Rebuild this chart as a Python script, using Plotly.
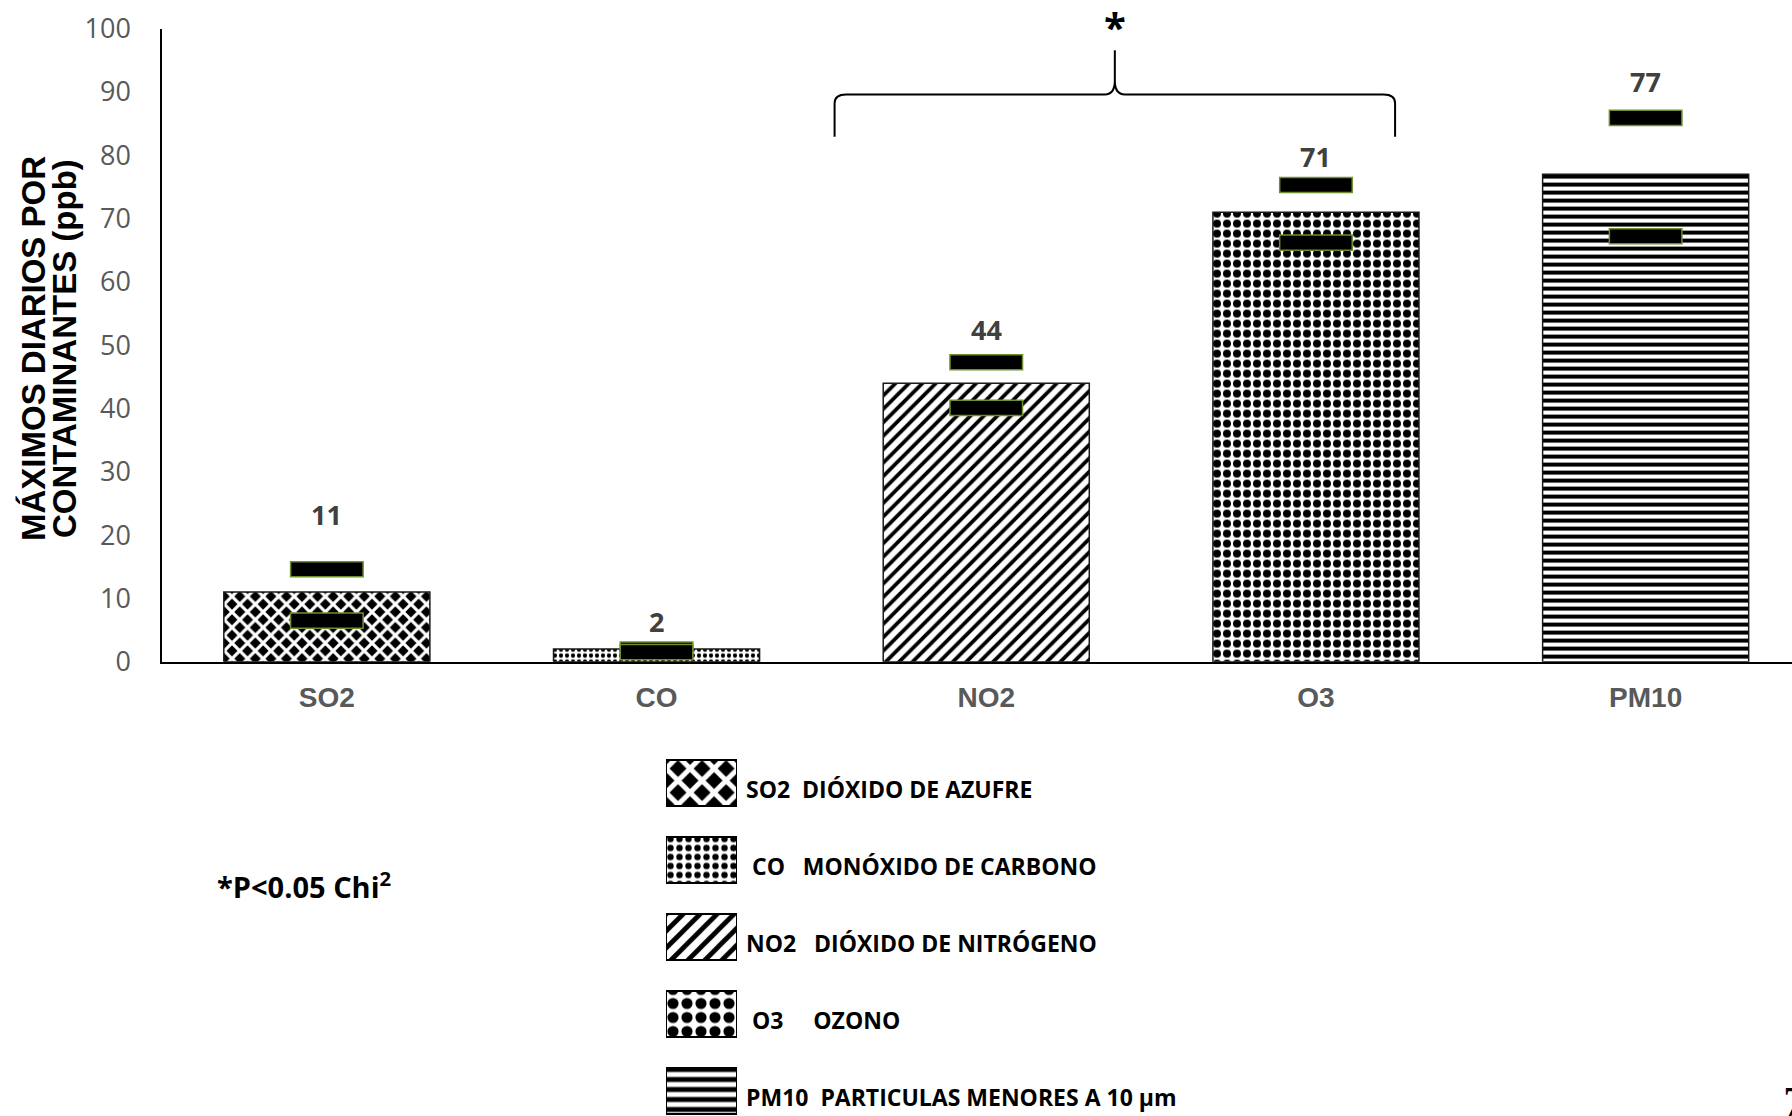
import plotly.graph_objects as go

# ---- data -------------------------------------------------------------
pollutants = ["SO2", "CO", "NO2", "O3", "PM10"]
daily_max = [11, 2, 44, 71, 77]
upper_limit = [14.6, 1.9, 47.3, 75.3, 85.9]
lower_limit = [6.5, 1.5, 40.1, 66.2, 67.2]
pollutant_names = [
    "DIÓXIDO DE AZUFRE",
    "MONÓXIDO DE CARBONO",
    "DIÓXIDO DE NITRÓGENO",
    "OZONO",
    "PARTICULAS MENORES A 10 µm",
]
y_tick_values = list(range(0, 101, 10))

# ---- layout geometry (pixels) ----------------------------------------
W, H = 1792, 1116
PLOT_LEFT, PLOT_TOP, PLOT_BOTTOM = 162, 28.6, 661.7
BAND = 329.7                      # width of one category slot
X_END = -0.5 + (W - PLOT_LEFT) / BAND

# legend block
LEG_LEFT, LEG_RIGHT = 666, 737
LEG_FIRST_ROW, LEG_STEP = 783, 77

MARK_H = 2.4                      # thickness of the limit markers (ppb)
LABEL_LIFT = [8.7, 4.4, 5.2, 4.5, 5.8]

GRAY = "#595959"
LABEL_GRAY = "#404040"
OLIVE = "#6f8f2f"


def fx(px):
    return px / W


def fy(px):
    return 1 - px / H


# fill patterns for each pollutant
pat_shape = ["x", ".", "/", ".", "-"]
pat_fg = ["white", "black", "black", "black", "black"]
pat_bg = ["black", "white", "white", "white", "white"]
pat_size = [11, 6, 9.5, 10, 8]
pat_solid = [0.5, 0.4, 0.4, 0.5, 0.5]
swatch_size = [17, 9, 12, 14, 10]

fig = go.Figure()

# main bars
fig.add_trace(go.Bar(
    x=pollutants, y=daily_max, width=0.625,
    marker=dict(
        color="white",
        line=dict(color="#1a1a1a", width=1.5),
        pattern=dict(shape=pat_shape, fgcolor=pat_fg, bgcolor=pat_bg,
                     size=pat_size, solidity=pat_solid, fillmode="replace"),
    ),
    hoverinfo="skip",
))

# upper / lower limit markers
for limits in (upper_limit, lower_limit):
    fig.add_trace(go.Bar(
        x=pollutants,
        y=[MARK_H] * len(limits),
        base=[v - MARK_H / 2 for v in limits],
        width=0.22,
        marker=dict(color="black", line=dict(color=OLIVE, width=1.5)),
        hoverinfo="skip",
    ))

# legend swatches on their own small axes
fig.add_trace(go.Bar(
    x=[1] * len(pollutants), y=pollutants, orientation="h", width=0.6,
    xaxis="x2", yaxis="y2",
    marker=dict(
        color="white",
        line=dict(color="black", width=2),
        pattern=dict(shape=pat_shape, fgcolor=pat_fg, bgcolor=pat_bg,
                     size=swatch_size, solidity=pat_solid, fillmode="replace"),
    ),
    hoverinfo="skip",
))

annotations = []

# value labels above each bar
for p, v, u, lift in zip(pollutants, daily_max, upper_limit, LABEL_LIFT):
    annotations.append(dict(
        x=p, y=u + lift, xref="x", yref="y", xanchor="center", yanchor="middle",
        text=f"<b>{v}</b>", showarrow=False,
        font=dict(family="Open Sans", size=27, color=LABEL_GRAY),
    ))

# legend text
gaps = [2, 3, 3, 5, 2]
leads = [0, 1, 0, 1, 0]
NB = "\u00a0"
for p, name, g, lead in zip(pollutants, pollutant_names, gaps, leads):
    annotations.append(dict(
        x=1, y=p, xref="x2", yref="y2", xanchor="left", yanchor="middle",
        xshift=7, yshift=-6,
        text=f"<b>{NB * lead}{p}{NB * g}{name}</b>",
        showarrow=False, font=dict(family="Open Sans", size=23, color="black"),
    ))

# y-axis title (two lines)
for i, line in enumerate(["MÁXIMOS DIARIOS POR", "CONTAMINANTES (ppb)"]):
    annotations.append(dict(
        x=fx(33 + 31 * i), y=fy(349), xref="paper", yref="paper",
        xanchor="center", yanchor="middle",
        text=f"<b>{line}</b>", textangle=-90, showarrow=False,
        font=dict(family="Liberation Sans Narrow, Liberation Sans", size=33, color="black"),
    ))

# significance note
annotations.append(dict(
    x=fx(215), y=fy(885), xref="paper", yref="paper", xanchor="left", yanchor="middle",
    text="<b>*P&lt;0.05 Chi<sup>2</sup></b>", showarrow=False,
    font=dict(family="Open Sans", size=29, color="black"),
))

# curly brace grouping NO2 and O3, with its asterisk on top
L, R, M = 1.54, 3.24, 2.39
YB, YL, YP = 89.6, 82.9, 96.6
brace = (
    f"M {L},{YL} L {L},{YB - 1.4} Q {L},{YB} {L + 0.035},{YB} "
    f"L {M - 0.03},{YB} Q {M},{YB} {M},{YB + 2.2} L {M},{YP} "
    f"M {M},{YB + 2.2} Q {M},{YB} {M + 0.03},{YB} "
    f"L {R - 0.035},{YB} Q {R},{YB} {R},{YB - 1.4} L {R},{YL}"
)
annotations.append(dict(
    x=M, y=fy(27), xref="x", yref="paper", xanchor="center", yanchor="middle",
    text="<b>*</b>", showarrow=False,
    font=dict(family="Open Sans", size=40, color="black"),
))

# page number at the corner
annotations.append(dict(
    x=fx(1781), y=fy(1102), xref="paper", yref="paper", xanchor="left", yanchor="middle",
    text="7", showarrow=False,
    font=dict(family="Liberation Serif", size=44, color="black"),
))

fig.update_layout(
    width=W, height=H,
    margin=dict(l=0, r=0, t=0, b=0, autoexpand=False),
    paper_bgcolor="white", plot_bgcolor="white",
    showlegend=False, barmode="overlay", hovermode=False,
    xaxis=dict(
        domain=[fx(PLOT_LEFT), 1], range=[-0.5, X_END], automargin=False,
        showline=True, linecolor="black", linewidth=1.5,
        showgrid=False, zeroline=False, ticks="",
        ticklabelstandoff=10,
        tickfont=dict(family="Liberation Sans", size=28, color=GRAY, weight="bold"),
    ),
    yaxis=dict(
        domain=[fy(PLOT_BOTTOM), fy(PLOT_TOP)], range=[0, 100], automargin=False,
        tickvals=y_tick_values,
        showline=True, linecolor="black", linewidth=1.5,
        showgrid=False, zeroline=False, ticks="",
        ticklabelstandoff=24,
        tickfont=dict(family="Open Sans", size=27, color=GRAY),
    ),
    xaxis2=dict(domain=[fx(LEG_LEFT), fx(LEG_RIGHT)], range=[0, 1],
                anchor="y2", visible=False, automargin=False),
    yaxis2=dict(domain=[0, fy(LEG_FIRST_ROW - LEG_STEP / 2)],
                range=[-0.5 + (H - LEG_FIRST_ROW + LEG_STEP / 2) / LEG_STEP, -0.5],
                anchor="x2", visible=False, automargin=False),
    shapes=[dict(type="path", path=brace, xref="x", yref="y",
                 line=dict(color="black", width=2))],
    annotations=annotations,
)

fig.write_html("out.html")
